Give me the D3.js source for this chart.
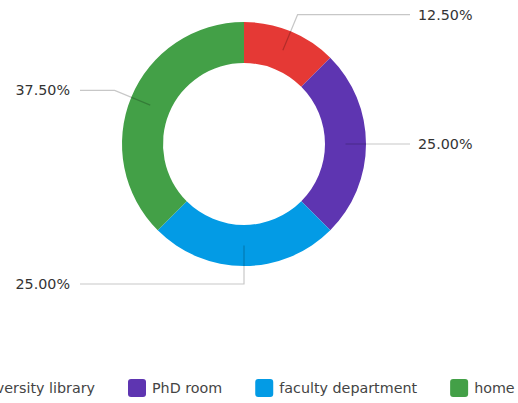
<!DOCTYPE html>
<html><head><meta charset="utf-8">
<script src="https://cdn.jsdelivr.net/npm/d3@7"></script>
<style>html,body{margin:0;padding:0;background:#fff;overflow:hidden}svg{display:block}</style>
</head><body>
<svg id="chart" width="518" height="403"></svg>
<script>
const categories = ["university library", "PhD room", "faculty department", "home"];
const values = [12.5, 25, 25, 37.5];
const colors = ["#E53935", "#5E35B1", "#039BE5", "#43A047"];

const svg = d3.select("#chart");
const cx = 244, cy = 144, R = 122, r = 81;
const font = "'DejaVu Sans', sans-serif";

const pie = d3.pie().sort(null).value(d => d)(values);
const arc = d3.arc().innerRadius(r).outerRadius(R);
const g = svg.append("g").attr("transform", `translate(${cx},${cy})`);
g.selectAll("path.slice").data(pie).join("path")
  .attr("class","slice")
  .attr("d", arc).attr("fill", (d,i) => colors[i]);

const total = d3.sum(values);
const fmt = v => (v / total * 100).toFixed(2) + "%";
const midR = (R + r) / 2, elbowR = 140, rightX = 410 - cx, leftX = 80 - cx;
pie.forEach((d, i) => {
  const a = (d.startAngle + d.endAngle) / 2;
  const p1 = [Math.sin(a) * midR, -Math.cos(a) * midR];
  const p2 = [Math.sin(a) * elbowR, -Math.cos(a) * elbowR];
  const right = Math.sin(a) > 0.001;
  const p3 = [right ? rightX : leftX, p2[1]];
  g.append("polyline")
    .attr("points", [p1, p2, p3].map(p => p.join(",")).join(" "))
    .attr("fill", "none").attr("stroke", "rgba(0,0,0,0.22)").attr("stroke-width", 1.2);
  g.append("text")
    .attr("x", right ? p3[0] + 8 : p3[0] - 10).attr("y", p3[1])
    .attr("dy", "0.35em")
    .attr("text-anchor", right ? "start" : "end")
    .attr("font-family", font).attr("font-size", 14.3).attr("fill", "#333")
    .text(fmt(d.value));
});

// legend
const lg = svg.append("g").attr("transform", "translate(0,388)");
let x = 0;
const items = [];
categories.forEach((c, i) => {
  const it = lg.append("g");
  it.append("rect").attr("x", 0).attr("y", -9).attr("width", 18).attr("height", 18)
    .attr("rx", 3).attr("fill", colors[i]);
  const t = it.append("text").attr("x", 24).attr("dy", "0.35em")
    .attr("font-family", font).attr("font-size", 14.3).attr("fill", "#444").text(c);
  const w = 24 + t.node().getComputedTextLength();
  items.push({it, x, w});
  x += w + 33;
});
const shift = 128 - items[1].x;
items.forEach(o => o.it.attr("transform", `translate(${o.x + shift},0)`));
</script>
</body></html>
